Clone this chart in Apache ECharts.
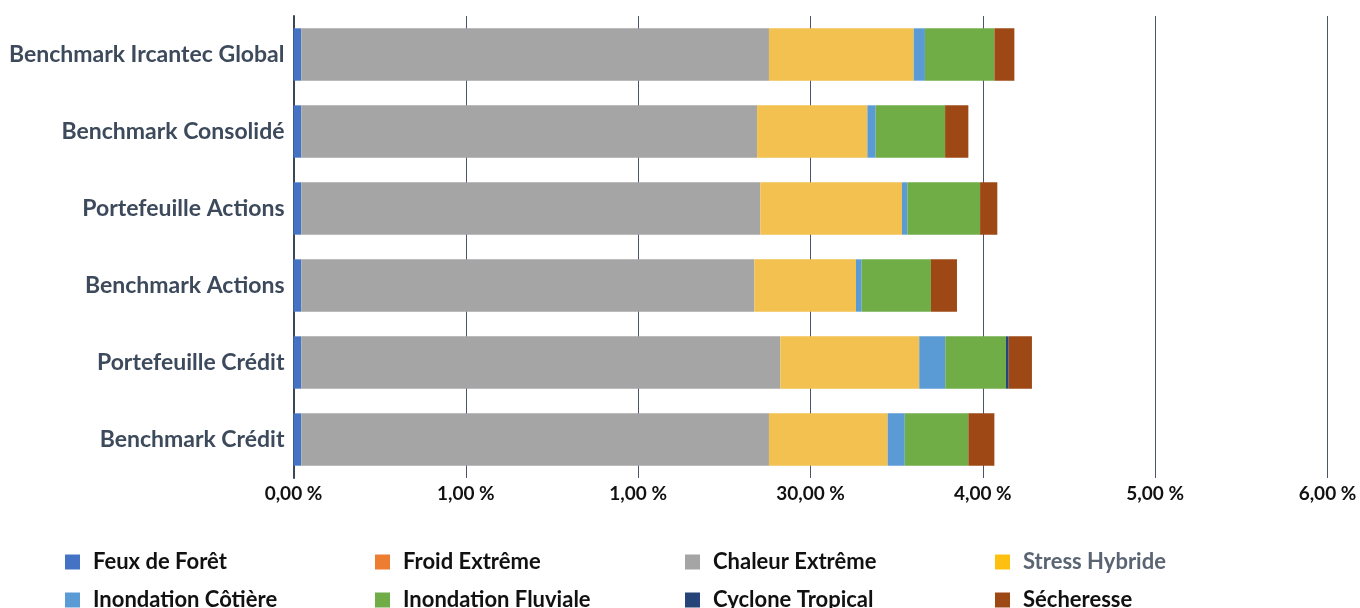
<!DOCTYPE html>
<html>
<head>
<meta charset="utf-8">
<script src="https://cdn.jsdelivr.net/npm/echarts@6/dist/echarts.min.js"></script>
<style>
  html, body { margin: 0; padding: 0; background: #fff; }
  #chart { width: 1360px; height: 608px; }
</style>
</head>
<body>
<div id="chart"></div>
<script>
// Portfolios / benchmarks, top to bottom
const categories = [
  'Benchmark Ircantec Global',
  'Benchmark Consolidé',
  'Portefeuille Actions',
  'Benchmark Actions',
  'Portefeuille Crédit',
  'Benchmark Crédit'
];

// Contribution of each physical risk (in %)
const feuxDeForet        = [0.045, 0.045, 0.045, 0.045, 0.045, 0.045];
const froidExtreme       = [0, 0, 0, 0, 0, 0];
const chaleurExtreme     = [2.714, 2.645, 2.664, 2.629, 2.780, 2.714];
const stressHybride      = [0.840, 0.640, 0.822, 0.590, 0.806, 0.689];
const inondationCotiere  = [0.065, 0.048, 0.031, 0.033, 0.151, 0.099];
const inondationFluviale = [0.403, 0.403, 0.422, 0.402, 0.352, 0.369];
const cycloneTropical    = [0, 0, 0, 0, 0.016, 0];
const secheresse         = [0.116, 0.135, 0.100, 0.151, 0.135, 0.151];

// Tick labels of the value axis, as printed
const tickLabels = ['0,00 %', '1,00 %', '1,00 %', '30,00 %', '4,00 %', '5,00 %', '6,00 %'];

const seriesDefs = [
  { name: 'Feux de Forêt',       data: feuxDeForet,        color: '#4472c4' },
  { name: 'Froid Extrême',       data: froidExtreme,       color: '#ed7d31' },
  { name: 'Chaleur Extrême',     data: chaleurExtreme,     color: '#a5a5a5' },
  { name: 'Stress Hybride',      data: stressHybride,      color: '#f2c14f', legendColor: '#fdc010', legendText: '#5a6472' },
  { name: 'Inondation Côtière',  data: inondationCotiere,  color: '#5b9bd5' },
  { name: 'Inondation Fluviale', data: inondationFluviale, color: '#70ad47' },
  { name: 'Cyclone Tropical',    data: cycloneTropical,    color: '#264478' },
  { name: 'Sécheresse',          data: secheresse,         color: '#9e4915' }
];

const FONT = 'Lato, "Open Sans", sans-serif';

// One legend block per item so the entries sit on a fixed 4-column grid
const legendCols = [65, 375, 685, 995];
const legendRows = [551, 589];
const legends = seriesDefs.map((s, i) => ({
  left: legendCols[i % 4],
  top: legendRows[Math.floor(i / 4)],
  orient: 'horizontal',
  itemWidth: 15,
  itemHeight: 15,
  icon: 'rect',
  selectedMode: false,
  padding: 0,
  data: [{
    name: s.name,
    itemStyle: { color: s.legendColor || s.color },
    textStyle: { color: s.legendText || '#111111' }
  }],
  textStyle: {
    fontFamily: FONT,
    fontSize: 22,
    fontWeight: 'bold',
    color: '#111111',
    padding: [0, 0, 0, 8]
  }
}));

const chart = echarts.init(document.getElementById('chart'), null, { renderer: 'canvas' });
chart.setOption({
  animation: false,
  backgroundColor: '#ffffff',
  grid: { left: 293.5, right: 32.5, top: 16, bottom: 130, containLabel: false },
  legend: legends,
  xAxis: {
    type: 'value',
    min: 0,
    max: 6,
    interval: 1,
    axisLine: { show: false },
    axisTick: { show: false },
    splitLine: { show: true, lineStyle: { color: '#4a5567', width: 1 } },
    axisLabel: {
      formatter: v => tickLabels[Math.round(v)],
      fontFamily: FONT,
      fontSize: 19,
      fontWeight: 'bold',
      color: '#111111',
      margin: 6
    }
  },
  yAxis: {
    type: 'category',
    inverse: true,
    data: categories,
    axisLine: { show: true, lineStyle: { color: '#3b4656', width: 2 } },
    axisTick: { show: false },
    axisLabel: {
      fontFamily: FONT,
      fontSize: 23,
      fontWeight: 'bold',
      color: '#3d4a5c',
      margin: 9
    }
  },
  series: seriesDefs.map(s => ({
    name: s.name,
    type: 'bar',
    stack: 'total',
    data: s.data,
    barCategoryGap: '32%',
    itemStyle: { color: s.color },
    emphasis: { disabled: true }
  }))
});
</script>
</body>
</html>
